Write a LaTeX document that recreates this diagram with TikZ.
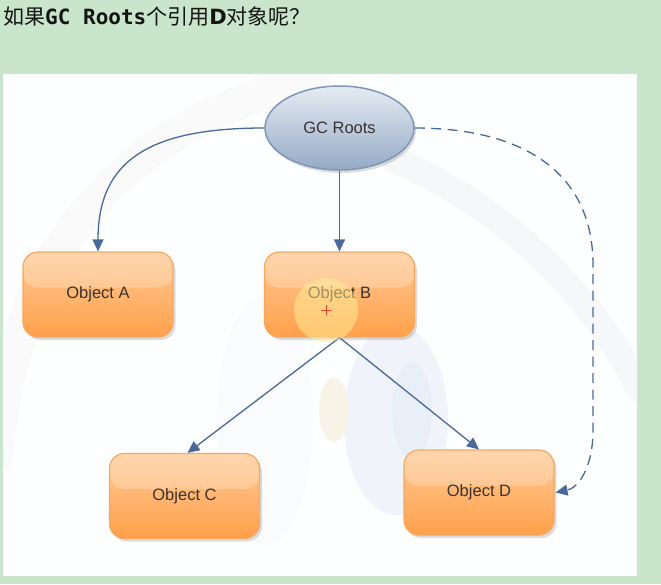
\documentclass[tikz,border=0pt]{standalone}
\usepackage{fontspec}
\setmainfont{Liberation Sans}
\newfontfamily\cjkfont{Noto Sans CJK SC}
\newfontfamily\monofont{DejaVu Sans Mono}
\newfontfamily\dejafont{DejaVu Sans}
\usetikzlibrary{shapes.geometric,arrows.meta,shadows}

\definecolor{bggreen}{HTML}{C9E5CB}
\definecolor{panelwhite}{HTML}{FDFEFE}
\definecolor{decogray}{HTML}{F6F7F9}
\definecolor{decoblue}{HTML}{F0F4FA}
\definecolor{decoblue2}{HTML}{E8EFF9}
\definecolor{decobeige}{HTML}{F7F3E6}
\definecolor{linkblue}{HTML}{48699A}
\definecolor{boxedge}{HTML}{F4A860}
\definecolor{boxtop}{HTML}{FFCB98}
\definecolor{boxbot}{HTML}{FFA04A}
\definecolor{elltop}{HTML}{E6ECF3}
\definecolor{ellbot}{HTML}{95AAC6}
\definecolor{elledge}{HTML}{7E97B8}
\definecolor{labeltxt}{HTML}{3A3330}
\definecolor{titletxt}{HTML}{141414}
\definecolor{cursorglow}{HTML}{FFF09A}
\definecolor{cursorplus}{HTML}{E8452A}

\tikzset{
  objbox/.style={draw=boxedge, line width=1.2pt, rounded corners=15pt,
    minimum width=150pt, minimum height=85pt, inner sep=0pt,
    top color=boxtop, bottom color=boxbot, text=labeltxt,
    font=\fontsize{16.5}{18}\selectfont,
    drop shadow={shadow xshift=2.5pt, shadow yshift=-3pt, opacity=0.22, fill=black!60},
    path picture={\fill[white, opacity=0.22]
      (path picture bounding box.north west) rectangle ([yshift=7pt]path picture bounding box.east);}},
  rootell/.style={ellipse, draw=elledge, line width=1.5pt,
    minimum width=149pt, minimum height=84pt, inner sep=0pt,
    top color=elltop, bottom color=ellbot, text=labeltxt,
    font=\fontsize{16.5}{18}\selectfont,
    drop shadow={shadow xshift=2pt, shadow yshift=-3pt, opacity=0.22, fill=black!60}},
  link/.style={draw=linkblue, line width=1.3pt,
    -{Triangle[length=12pt,width=11pt,fill=linkblue]}},
  dashlink/.style={link, dash pattern=on 10pt off 6.5pt}
}

\begin{document}
\begin{tikzpicture}[x=1pt,y=-1pt]
  \useasboundingbox (0,0) rectangle (661,584);
  % backgrounds
  \fill[bggreen] (0,0) rectangle (661,584);
  \fill[panelwhite] (3,74) rectangle (637,576);

  % faint watermark decorations
  \begin{scope}
    \clip (3,74) rectangle (637,576);
    \draw[decogray, line width=26pt, line cap=round]
      (395,160) .. controls (500,205) and (590,290) .. (640,390);
    \draw[decogray!60, line width=34pt]
      (-5,470) .. controls (10,240) and (140,110) .. (330,78);
    \fill[decogray!50] (265,420) ellipse [x radius=48, y radius=125];
    \fill[decoblue] (396,420) ellipse [x radius=52, y radius=95];
    \fill[decoblue2] (412,410) ellipse [x radius=20, y radius=48];
    \fill[decobeige] (334,410) ellipse [x radius=15, y radius=32];
  \end{scope}

  % nodes
  \node[rootell] (gc) at (339.5,128) {GC Roots};
  \node[objbox] (A) at (98,294.5) {Object A};
  \node[objbox] (B) at (339.5,294.5) {Object B};
  \node[objbox] (C) at (184.5,496) {Object C};
  \node[objbox] (D) at (479,492.5) {Object D};

  % connectors
  \coordinate (dk1) at (593,265);
  \coordinate (dk2) at (593,430);
  \draw[link] (gc.west) .. controls (150,128) and (98,160) .. (A.north);
  \draw[link] (gc.south) -- (B.north);
  \draw[link] (B.south) -- ([xshift=3pt]C.north);
  \draw[link] (B.south) -- (D.north);
  \draw[dashlink] (gc.east) .. controls (520,128) and (593,170) .. (dk1)
     -- (dk2) .. controls (593,468) and (578,488) .. ([xshift=1pt]D.east);

  % cursor highlight
  \fill[cursorglow, opacity=0.5] (326,310) circle [radius=32];
  \draw[cursorplus, line width=0.9pt] (321,310) -- (331,310) (326,305) -- (326,315);

  % title
  \node[anchor=base west, inner sep=0pt, text=titletxt] (title) at (3,24)
    {\fontsize{21}{24}\selectfont\cjkfont 如果{\monofont\bfseries GC Roots}个引用{\dejafont\bfseries D}对象呢？};
\end{tikzpicture}
\end{document}
